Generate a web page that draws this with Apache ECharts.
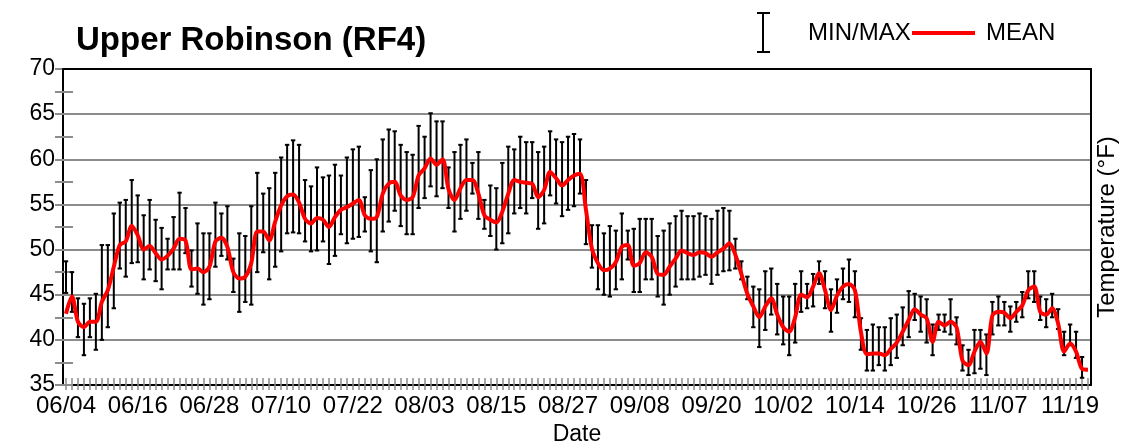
<!DOCTYPE html>
<html>
<head>
<meta charset="utf-8">
<title>Upper Robinson (RF4)</title>
<script src="https://cdn.jsdelivr.net/npm/echarts@6/dist/echarts.min.js"></script>
<style>
  html, body { margin: 0; padding: 0; background: #fff; }
  #chart { width: 1121px; height: 447px; }
</style>
</head>
<body>
<div id="chart"></div>
<script>
// Daily water temperature (°F), Upper Robinson (RF4), starting 06/04
const startMonth = 6, startDay = 4;

const meanTemp = [
  42.9, 44.8, 42.0, 41.4, 42.0, 42.0, 44.2, 45.5, 48.1, 50.5,
  50.9, 52.6, 51.6, 50.0, 50.4, 49.6, 48.9, 49.3, 50.1, 51.2,
  51.0, 47.8, 47.9, 47.5, 48.1, 50.9, 51.3, 50.3, 47.5, 46.8,
  47.0, 48.5, 52.0, 52.0, 51.0, 53.1, 54.9, 55.9, 56.1, 55.2,
  53.4, 52.9, 53.5, 53.3, 52.5, 53.6, 54.4, 54.7, 55.1, 55.5,
  53.8, 53.4, 53.6, 56.2, 57.3, 57.5, 56.0, 55.5, 55.8, 58.2,
  59.0, 60.1, 59.4, 60.0, 56.7, 55.5, 56.8, 57.7, 57.7, 56.2,
  53.8, 53.3, 53.0, 54.2, 56.2, 57.7, 57.5, 57.4, 57.3, 55.8,
  56.6, 58.6, 57.9, 57.1, 57.7, 58.2, 58.4, 54.4, 50.1, 48.5,
  47.7, 47.9, 48.6, 50.3, 50.5, 48.2, 48.5, 49.7, 49.2, 47.3,
  47.2, 48.1, 49.0, 49.9, 49.6, 49.4, 49.7, 49.6, 49.2, 49.7,
  50.1, 50.7, 49.4, 47.3, 45.1, 43.7, 42.5, 43.7, 44.6, 42.8,
  41.4, 40.9, 42.5, 45.0, 44.7, 45.9, 47.4, 45.5, 43.3, 44.9,
  45.9, 46.2, 45.5, 40.9, 38.4, 38.5, 38.5, 38.3, 39.0, 39.7,
  40.9, 42.2, 43.4, 42.8, 42.4, 39.8, 42.0, 41.6, 42.0, 41.4,
  37.7, 37.2, 38.7, 39.8, 38.5, 42.7, 43.1, 43.0, 42.4, 43.1,
  43.8, 45.5, 45.9, 43.1, 42.8, 43.5, 41.8, 38.7, 39.6, 38.7,
  36.8, 36.7
];

const maxTemp = [
  48.7, 47.5, 44.6, 44.0, 44.6, 45.1, 50.5, 50.5, 54.0, 55.2,
  55.5, 57.7, 56.0, 53.8, 55.5, 53.3, 52.4, 51.2, 53.6, 56.3,
  54.6, 49.9, 52.9, 51.8, 51.8, 55.2, 54.0, 54.8, 49.0, 51.8,
  51.5, 54.8, 58.5, 56.2, 56.8, 58.5, 60.2, 61.6, 62.1, 61.6,
  57.7, 57.0, 59.1, 58.0, 58.2, 59.4, 58.2, 60.2, 61.1, 61.4,
  55.8, 58.8, 60.0, 62.2, 63.3, 63.1, 61.6, 60.8, 60.5, 63.7,
  62.5, 65.1, 64.2, 64.2, 59.1, 60.8, 61.6, 62.2, 59.6, 60.8,
  55.5, 57.1, 56.8, 59.6, 61.4, 61.1, 62.5, 61.9, 61.9, 60.8,
  61.4, 63.1, 62.2, 61.9, 62.5, 62.8, 62.2, 57.7, 52.7, 52.7,
  51.8, 52.6, 52.1, 54.0, 52.1, 52.3, 53.4, 53.4, 53.4, 51.5,
  52.1, 52.9, 53.7, 54.3, 53.7, 53.7, 54.0, 53.7, 53.4, 54.3,
  54.6, 54.3, 51.2, 48.7, 47.0, 45.9, 45.6, 47.6, 47.9, 46.2,
  44.8, 44.8, 46.2, 47.6, 46.2, 47.3, 48.7, 47.6, 45.6, 46.7,
  47.9, 48.9, 47.6, 42.4, 41.1, 41.7, 41.4, 41.4, 42.4, 42.8,
  43.6, 45.4, 45.1, 44.8, 44.5, 41.7, 42.8, 42.8, 44.5, 42.5,
  39.4, 38.9, 41.1, 41.1, 40.6, 44.2, 44.8, 44.2, 43.7, 44.2,
  45.3, 47.6, 47.6, 44.8, 44.5, 45.1, 43.4, 40.9, 41.7, 40.9,
  38.1, null
];

const minTemp = [
  45.2, 43.1, 40.3, 38.3, 40.3, 38.9, 40.0, 41.4, 43.5, 47.9,
  47.0, 48.5, 48.6, 46.7, 47.8, 46.5, 45.6, 47.8, 47.8, 47.8,
  49.6, 45.9, 45.1, 43.9, 44.5, 48.1, 49.3, 48.9, 45.3, 43.1,
  44.2, 43.9, 47.5, 49.7, 46.7, 48.1, 49.8, 51.8, 51.9, 51.8,
  50.9, 49.8, 49.9, 50.9, 48.4, 49.3, 51.7, 50.7, 51.2, 51.4,
  52.0, 49.8, 48.6, 52.0, 53.1, 54.3, 52.6, 51.7, 51.7, 54.6,
  55.7, 57.0, 55.9, 56.8, 54.6, 52.0, 53.4, 54.3, 56.2, 53.4,
  52.3, 51.5, 50.0, 50.7, 51.8, 54.0, 54.6, 54.0, 55.7, 52.3,
  52.9, 56.0, 55.1, 53.7, 54.4, 54.8, 56.2, 50.6, 48.0, 45.6,
  45.0, 44.8, 45.6, 46.7, 48.9, 45.3, 45.3, 46.7, 46.7, 44.8,
  43.9, 45.0, 45.9, 46.7, 46.7, 46.7, 47.0, 47.2, 46.2, 47.2,
  47.6, 47.7, 47.9, 46.7, 44.5, 41.4, 39.2, 41.1, 42.8, 40.6,
  39.5, 38.3, 39.7, 43.1, 43.5, 43.7, 46.2, 43.5, 40.9, 43.0,
  44.5, 44.2, 42.5, 38.9, 36.6, 36.6, 37.2, 36.6, 37.2, 38.0,
  39.4, 40.3, 42.2, 40.9, 39.7, 38.3, 41.1, 40.9, 40.6, 39.5,
  36.6, 36.1, 36.3, 36.8, 36.1, 40.6, 41.6, 41.6, 40.9, 42.0,
  42.5, 44.6, 44.2, 42.2, 41.4, 42.5, 41.2, 38.3, 39.4, 38.0,
  35.8, null
];

const yTicks = [35, 40, 45, 50, 55, 60, 65, 70];

// One category per day, labelled MM/DD
const dates = [];
(function () {
  const d = new Date(2021, startMonth - 1, startDay);
  for (let i = 0; i < meanTemp.length; i++) {
    const mm = String(d.getMonth() + 1).padStart(2, '0');
    const dd = String(d.getDate()).padStart(2, '0');
    dates.push(mm + '/' + dd);
    d.setDate(d.getDate() + 1);
  }
})();

const rangeData = [];
for (let i = 0; i < dates.length; i++) {
  if (maxTemp[i] != null && minTemp[i] != null) rangeData.push([i, maxTemp[i], minTemp[i]]);
}

const FONT = '"Liberation Sans", Arial, sans-serif';
const GRID_GRAY = '#8c8c8c';
const TEXT_SIZE = 24;

function renderRange(params, api) {
  const x = api.value(0);
  const top = api.coord([x, api.value(1)]);
  const bot = api.coord([x, api.value(2)]);
  const cap = 2.2;
  const style = { stroke: '#000', lineWidth: 2 };
  return {
    type: 'group',
    children: [
      { type: 'line', shape: { x1: top[0], y1: top[1], x2: bot[0], y2: bot[1] }, style: style },
      { type: 'line', shape: { x1: top[0] - cap, y1: top[1], x2: top[0] + cap, y2: top[1] }, style: style },
      { type: 'line', shape: { x1: bot[0] - cap, y1: bot[1], x2: bot[0] + cap, y2: bot[1] }, style: style }
    ]
  };
}

const chart = echarts.init(document.getElementById('chart'), null, { renderer: 'canvas' });

const yMin = yTicks[0], yMax = yTicks[yTicks.length - 1];

chart.setOption({
  animation: false,
  backgroundColor: '#fff',
  title: {
    text: 'Upper Robinson (RF4)',
    left: 71,
    top: 19,
    textStyle: { fontFamily: FONT, fontSize: 33, fontWeight: 'bold', color: '#000' }
  },
  grid: {
    left: 63, right: 30, top: 69, bottom: 62,
    outerBoundsMode: 'none',
    containLabel: false
  },
  xAxis: [
    {
      type: 'category',
      data: dates,
      boundaryGap: true,
      position: 'bottom',
      name: 'Date',
      nameLocation: 'middle',
      nameGap: 36,
      nameTextStyle: { fontFamily: FONT, fontSize: TEXT_SIZE - 1, color: '#000' },
      axisLine: { show: true, lineStyle: { color: '#000', width: 2 } },
      axisTick: { show: true, alignWithLabel: true, interval: 0, length: 5, lineStyle: { color: GRID_GRAY, width: 1.5 } },
      axisLabel: {
        interval: 11, margin: 9,
        fontFamily: FONT, fontSize: TEXT_SIZE, color: '#000'
      },
      splitLine: { show: false }
    },
    {
      type: 'category',
      data: dates,
      boundaryGap: true,
      position: 'bottom',
      axisLine: { show: false },
      axisTick: { show: true, inside: true, alignWithLabel: true, interval: 0, length: 7, lineStyle: { color: GRID_GRAY, width: 1.5 } },
      axisLabel: { show: false },
      splitLine: { show: false }
    },
    {
      type: 'category',
      data: dates,
      position: 'top',
      z: 5,
      axisLine: { show: true, lineStyle: { color: '#000', width: 2 } },
      axisTick: { show: false },
      axisLabel: { show: false },
      splitLine: { show: false }
    }
  ],
  yAxis: [
    {
      type: 'value',
      min: yMin, max: yMax, interval: 5,
      position: 'left',
      axisLine: { show: true, lineStyle: { color: '#000', width: 2 } },
      axisTick: { show: true, length: 8, lineStyle: { color: GRID_GRAY, width: 2 } },
      minorTick: { show: true, splitNumber: 2, length: 8, lineStyle: { color: GRID_GRAY, width: 2 } },
      axisLabel: { margin: 8, fontFamily: FONT, fontSize: TEXT_SIZE - 1, color: '#000' },
      splitLine: { show: true, lineStyle: { color: GRID_GRAY, width: 2 } }
    },
    {
      type: 'value',
      min: yMin, max: yMax, interval: 2.5,
      position: 'left',
      axisLine: { show: false },
      axisTick: { show: true, inside: true, length: 10, lineStyle: { color: GRID_GRAY, width: 2 } },
      axisLabel: { show: false },
      splitLine: { show: false }
    },
    {
      type: 'value',
      min: yMin, max: yMax, interval: 5,
      position: 'right',
      z: 5,
      name: 'Temperature (°F)',
      nameLocation: 'middle',
      nameRotate: 90,
      nameGap: 4,
      nameTextStyle: { fontFamily: FONT, fontSize: TEXT_SIZE, color: '#000' },
      axisLine: { show: true, lineStyle: { color: '#000', width: 2 } },
      axisTick: { show: false },
      axisLabel: { show: false },
      splitLine: { show: false }
    }
  ],
  graphic: [
    // legend: min/max whisker
    { type: 'line', shape: { x1: 763, y1: 13, x2: 763, y2: 52 }, style: { stroke: '#000', lineWidth: 2 } },
    { type: 'line', shape: { x1: 757, y1: 13, x2: 770, y2: 13 }, style: { stroke: '#000', lineWidth: 2 } },
    { type: 'line', shape: { x1: 757, y1: 52, x2: 770, y2: 52 }, style: { stroke: '#000', lineWidth: 2 } },
    { type: 'text', x: 808, y: 33, style: { text: 'MIN/MAX', font: TEXT_SIZE + 'px ' + FONT, fill: '#000', verticalAlign: 'middle' } },
    // legend: mean line
    { type: 'line', shape: { x1: 912, y1: 33, x2: 975, y2: 33 }, style: { stroke: '#ff0000', lineWidth: 4 } },
    { type: 'text', x: 986, y: 33, style: { text: 'MEAN', font: TEXT_SIZE + 'px ' + FONT, fill: '#000', verticalAlign: 'middle' } }
  ],
  series: [
    {
      name: 'MIN/MAX',
      type: 'custom',
      xAxisIndex: 0,
      yAxisIndex: 0,
      renderItem: renderRange,
      encode: { x: 0, y: [1, 2] },
      data: rangeData,
      z: 3
    },
    {
      name: 'MEAN',
      type: 'line',
      xAxisIndex: 0,
      yAxisIndex: 0,
      data: meanTemp,
      showSymbol: false,
      smooth: 0.3,
      lineStyle: { color: '#ff0000', width: 4 },
      z: 4
    }
  ]
});
</script>
</body>
</html>
